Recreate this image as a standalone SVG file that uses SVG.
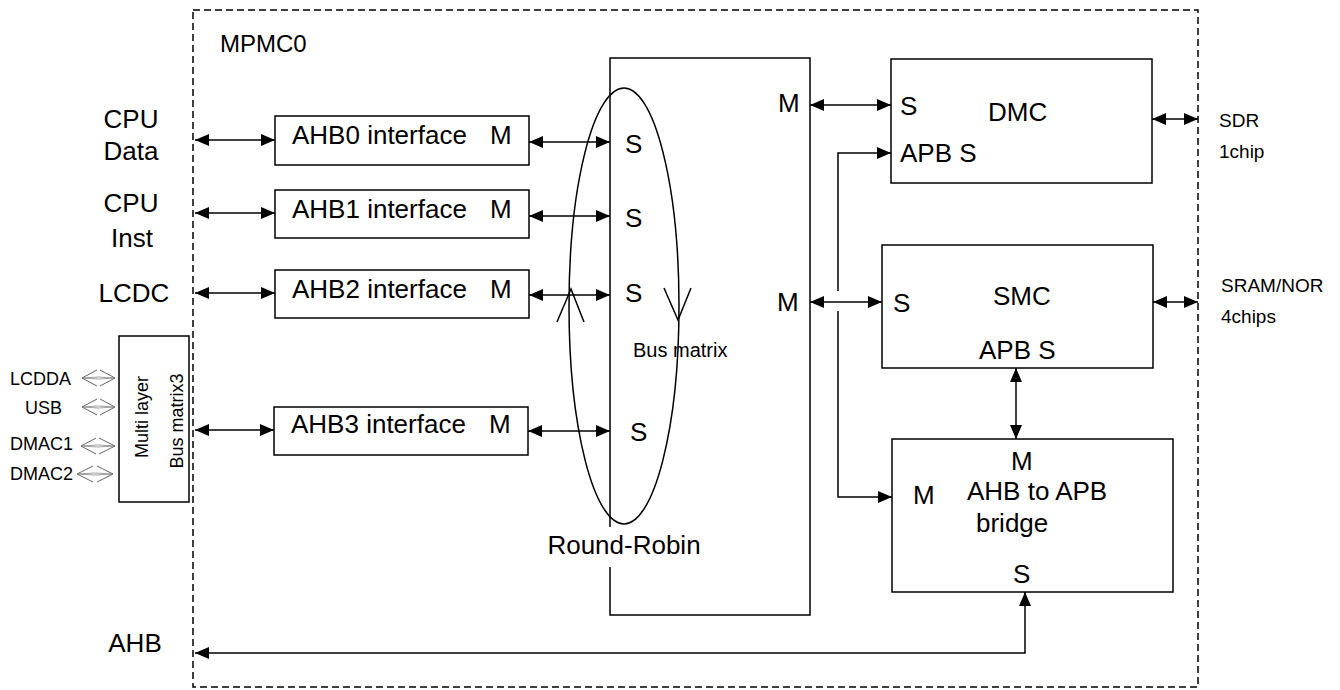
<svg xmlns="http://www.w3.org/2000/svg" width="1340" height="690" viewBox="0 0 1340 690">
<defs>
<marker id="ah" viewBox="0 0 14 12" refX="14" refY="6" markerWidth="14" markerHeight="12" markerUnits="userSpaceOnUse" orient="auto-start-reverse">
<path d="M0,0 L14,6 L0,12 z" fill="#000"/>
</marker>
<style>
text{font-family:"Liberation Sans",Arial,sans-serif;fill:#000}
.t{font-size:26px}
.s{font-size:19px}
.xs{font-size:18px}
.b{fill:#fff;stroke:#000;stroke-width:1.5}
.c{fill:none;stroke:#000;stroke-width:1.5}
.d{marker-start:url(#ah);marker-end:url(#ah)}
.e{marker-end:url(#ah)}
.h{fill:none;stroke:#555;stroke-width:0.9}
.hl{fill:none;stroke:#777;stroke-width:0.7}
</style>
</defs>
<rect width="1340" height="690" fill="#fff"/>

<g id="mpmc0">
<rect x="193" y="10" width="1005" height="677" fill="none" stroke="#000" stroke-width="1.5" stroke-dasharray="7,4"/>
<text class="t" x="220" y="52" style="font-size:24px">MPMC0</text>
</g>

<g id="ext-labels">
<text class="t" x="131" y="128" text-anchor="middle">CPU</text>
<text class="t" x="131" y="160" text-anchor="middle">Data</text>
<text class="t" x="131" y="212" text-anchor="middle">CPU</text>
<text class="t" x="132" y="247" text-anchor="middle">Inst</text>
<text class="t" x="134" y="302" text-anchor="middle">LCDC</text>
<text class="t" x="135" y="652" text-anchor="middle">AHB</text>
<text class="s" x="1219" y="127">SDR</text>
<text class="s" x="1219" y="158">1chip</text>
<text class="s" x="1221" y="292">SRAM/NOR</text>
<text class="s" x="1221" y="323">4chips</text>
<text class="xs" x="10" y="385">LCDDA</text>
<text class="xs" x="25" y="414">USB</text>
<text class="xs" x="10" y="450">DMAC1</text>
<text class="xs" x="10" y="480">DMAC2</text>
</g>

<g id="multilayer">
<rect class="b" x="119" y="336" width="70" height="166"/>
<text class="xs" transform="translate(148,417) rotate(-90)" text-anchor="middle">Multi layer</text>
<text class="xs" transform="translate(183,421) rotate(-90)" text-anchor="middle">Bus matrix3</text>
</g>

<g id="ahb0"><rect class="b" x="275" y="116" width="254" height="49"/><text class="t" x="292" y="144">AHB0 interface<tspan x="490">M</tspan></text></g>
<g id="ahb1"><rect class="b" x="275" y="190" width="254" height="48"/><text class="t" x="292" y="218">AHB1 interface<tspan x="490">M</tspan></text></g>
<g id="ahb2"><rect class="b" x="275" y="270" width="254" height="48"/><text class="t" x="292" y="298">AHB2 interface<tspan x="490">M</tspan></text></g>
<g id="ahb3"><rect class="b" x="274" y="407" width="254" height="48"/><text class="t" x="291" y="433">AHB3 interface<tspan x="489">M</tspan></text></g>

<g id="busmatrix">
<rect class="b" x="610" y="58" width="200" height="557"/>
<ellipse class="c" cx="624" cy="306" rx="55" ry="218"/>
<path class="c" d="M557,322 L571,289 L584,322"/>
<path class="c" d="M664,288 L678,320 L691,288"/>
<text class="t" x="625" y="153">S</text>
<text class="t" x="625" y="227">S</text>
<text class="t" x="625" y="302">S</text>
<text class="t" x="630" y="441">S</text>
<text class="t" x="778" y="112">M</text>
<text class="t" x="777" y="311">M</text>
<text x="633" y="357" style="font-size:20px">Bus matrix</text>
<rect x="600" y="527" width="20" height="40" fill="#fff"/>
<text class="t" x="624" y="554" text-anchor="middle">Round-Robin</text>
</g>

<g id="dmc">
<rect class="b" x="891" y="59" width="261" height="124"/>
<text class="t" x="900" y="115">S</text>
<text class="t" x="988" y="121">DMC</text>
<text class="t" x="900" y="162">APB S</text>
</g>

<g id="smc">
<rect class="b" x="882" y="245" width="271" height="123"/>
<text class="t" x="893" y="312">S</text>
<text class="t" x="993" y="305">SMC</text>
<text class="t" x="979" y="359">APB S</text>
</g>

<g id="bridge">
<rect class="b" x="892" y="439" width="281" height="153"/>
<text class="t" x="1011" y="470">M</text>
<text class="t" x="967" y="500">AHB to APB</text>
<text class="t" x="976" y="532">bridge</text>
<text class="t" x="913" y="504">M</text>
<text class="t" x="1013" y="583">S</text>
</g>

<g id="connectors">
<line class="c d" x1="195" y1="140" x2="275" y2="140"/>
<line class="c d" x1="195" y1="213" x2="275" y2="213"/>
<line class="c d" x1="195" y1="293" x2="275" y2="293"/>
<line class="c d" x1="195" y1="430" x2="274" y2="430"/>
<line class="c d" x1="529" y1="142" x2="610" y2="142"/>
<line class="c d" x1="529" y1="216" x2="610" y2="216"/>
<line class="c d" x1="529" y1="295" x2="610" y2="295"/>
<line class="c d" x1="528" y1="431" x2="610" y2="431"/>
<line class="c d" x1="810" y1="105" x2="891" y2="105"/>
<line class="c d" x1="810" y1="302" x2="882" y2="302"/>
<path class="c e" d="M838,291 L838,153 L891,153"/>
<path class="c e" d="M838,311 L838,497 L892,497"/>
<line class="c d" x1="1152" y1="119" x2="1198" y2="119"/>
<line class="c d" x1="1153" y1="302" x2="1198" y2="302"/>
<line class="c d" x1="1016" y1="368" x2="1016" y2="439"/>
<path class="c d" d="M1025,592 L1025,653 L195,653"/>
<g id="hollow-arrows">
<path class="h" d="M97,370 L82,378 L97,386 M100,370 L115,378 L100,386"/>
<path class="hl" d="M82,378 L98.5,377 L115,378 M82,378 L98.5,379 L115,378"/>
<path class="h" d="M97,399 L82,407 L97,415 M100,399 L115,407 L100,415"/>
<path class="hl" d="M82,407 L98.5,406 L115,407 M82,407 L98.5,408 L115,407"/>
<path class="h" d="M96,438 L81,446 L96,454 M99,438 L115,446 L99,454"/>
<path class="hl" d="M81,446 L97.5,445 L115,446 M81,446 L97.5,447 L115,446"/>
<path class="h" d="M93,466 L77,474 L93,482 M97,466 L113,474 L97,482"/>
<path class="hl" d="M77,474 L95,473 L113,474 M77,474 L95,475 L113,474"/>
</g>
</g>
</svg>
